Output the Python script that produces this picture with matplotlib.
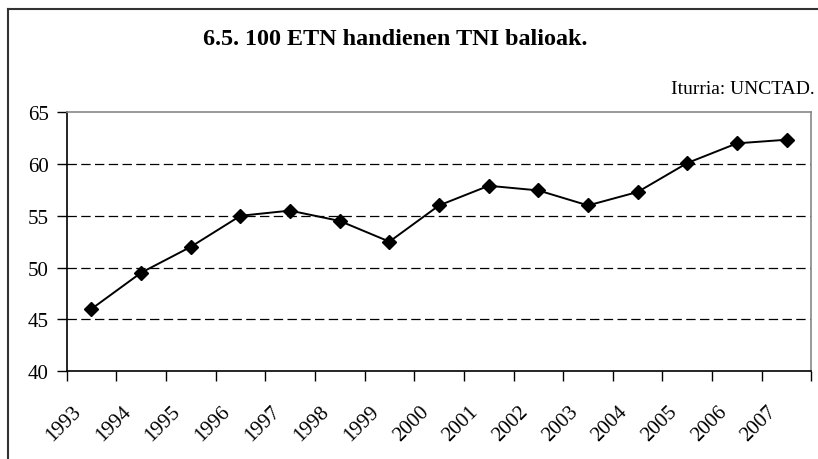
import matplotlib
matplotlib.use("Agg")
import matplotlib.pyplot as plt
import matplotlib.transforms as mtransforms
from matplotlib.lines import Line2D

# Data
years = ["1993", "1994", "1995", "1996", "1997", "1998", "1999", "2000",
         "2001", "2002", "2003", "2004", "2005", "2006", "2007"]
tni = [46.0, 49.5, 52.0, 55.0, 55.5, 54.5, 52.5, 56.0,
       57.9, 57.45, 56.0, 57.3, 60.1, 62.0, 62.35]
yticks = [40, 45, 50, 55, 60, 65]

title = "6.5. 100 ETN handienen TNI balioak."
source = "Iturria: UNCTAD."

plt.rcParams['font.family'] = ['Liberation Serif', 'DejaVu Serif']

fig = plt.figure(figsize=(8.18, 4.6), dpi=100)
ax = fig.add_axes([0.0815, 0.1913, 0.9105, 0.5624])

x = [i + 0.5 for i in range(len(years))]
ax.plot(x, tni, color='black', lw=1.4, marker='D', markersize=7.5, zorder=3)

ax.set_xlim(0, len(years))
ax.set_ylim(40, 65)
ax.set_yticks(yticks)
ax.tick_params(axis='y', direction='out', length=7, width=1, pad=6, labelsize=15)

# category boundaries as ticks, labels at the centers
ax.set_xticks(range(len(years) + 1))
ax.set_xticklabels([])
ax.tick_params(axis='x', which='major', direction='out', length=7, width=1)
ax.set_xticks(x, minor=True)
ax.set_xticklabels(years, minor=True, rotation=45, ha='right', va='center',
                   rotation_mode='anchor', fontsize=15)
ax.tick_params(axis='x', which='minor', length=0, pad=27)
offset = mtransforms.ScaledTranslation(-13 / 100, 0, fig.dpi_scale_trans)
for lab in ax.get_xticklabels(minor=True):
    lab.set_transform(lab.get_transform() + offset)

for v in yticks[1:-1]:
    ax.axhline(v, color='black', lw=0.9, ls=(0, (7.5, 3.5)), zorder=1)

ax.spines['left'].set_color('black')
ax.spines['bottom'].set_color('black')
ax.spines['top'].set_color('#888888')
ax.spines['right'].set_color('#888888')
for s in ax.spines.values():
    s.set_linewidth(1.2)

fig.text(395 / 818, 1 - 40 / 460, title, ha='center', va='center',
         fontsize=17.4, fontweight='bold')
fig.text(815 / 818, 1 - 90 / 460, source, ha='right', va='center', fontsize=14)

# outer frame: only left and top edges are visible
fig.add_artist(Line2D([8 / 818, 8 / 818], [0, 1 - 10 / 460],
                      transform=fig.transFigure, color='#333333', lw=1.5))
fig.add_artist(Line2D([8 / 818, 1], [1 - 10 / 460, 1 - 10 / 460],
                      transform=fig.transFigure, color='#333333', lw=1.5))

fig.savefig("out.png", dpi=100)
